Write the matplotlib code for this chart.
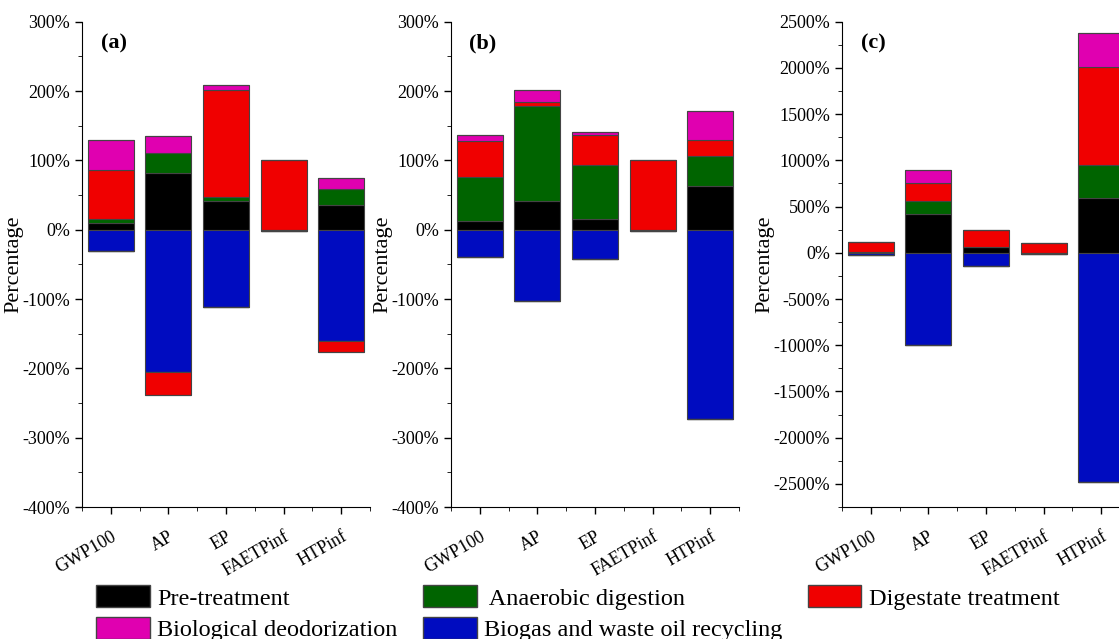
import numpy as np
import matplotlib.pyplot as plt
from matplotlib.patches import Patch
from matplotlib.ticker import MultipleLocator, FuncFormatter

plt.rcParams['font.family'] = ['Liberation Serif', 'DejaVu Serif']
plt.rcParams['axes.unicode_minus'] = False

categories = ['GWP100', 'AP', 'EP', 'FAETPinf', 'HTPinf']
stages = ['Pre-treatment', ' Anaerobic digestion', 'Digestate treatment',
          'Biological deodorization', 'Biogas and waste oil recycling']
colors = ['#000000', '#006400', '#f00000', '#e000b0', '#000cc0']

# percentage contributions per stage, panel (a)
pre_a = [10, 82, 41, 0, 35]
ad_a = [6, 28, 6, 0, 23]
dig_a = [70, -33, 155, 101, -16]
deo_a = [44, 25, 7, 0, 16]
bio_a = [-31, -205, -112, -2, -161]

# panel (b)
pre_b = [13, 42, 15, 0, 63]
ad_b = [63, 137, 78, 0, 44]
dig_b = [52, 5, 44, 100, 23]
deo_b = [9, 17, 4, 0, 41]
bio_b = [-39, -103, -42, -2, -273]

# panel (c)
pre_c = [5, 415, 61, 0, 592]
ad_c = [0, 149, 0, 0, 361]
dig_c = [107, 187, 181, 101, 1059]
deo_c = [0, 141, 0, 0, 361]
bio_c = [-25, -993, -144, -10, -2478]

panels = [
    ('(a)', [pre_a, ad_a, dig_a, deo_a, bio_a], (-400, 300), 100, 50),
    ('(b)', [pre_b, ad_b, dig_b, deo_b, bio_b], (-400, 300), 100, 50),
    ('(c)', [pre_c, ad_c, dig_c, deo_c, bio_c], (-2750, 2500), 500, 250),
]

fig = plt.figure(figsize=(11.19, 6.39), dpi=100)
lefts = [82, 451, 842]
x = np.arange(len(categories))

for (tag, series, ylim, major, minor), left in zip(panels, lefts):
    ax = fig.add_axes([left / 1119, (639 - 507) / 639, 288 / 1119, 485.3 / 639])
    pos = np.zeros(len(categories))
    neg = np.zeros(len(categories))
    # negatives: recycling first, then the rest
    order_neg = [4, 0, 1, 2, 3]
    for i in range(5):
        vals = np.array(series[i], dtype=float)
        p = np.where(vals > 0, vals, 0)
        ax.bar(x, p, 0.8, bottom=pos, color=colors[i], edgecolor='#444444', linewidth=0.8)
        pos += p
    for i in order_neg:
        vals = np.array(series[i], dtype=float)
        n = np.where(vals < 0, vals, 0)
        ax.bar(x, n, 0.8, bottom=neg, color=colors[i], edgecolor='#444444', linewidth=0.8)
        neg += n

    ax.set_xlim(-0.5, 4.5)
    ax.set_ylim(*ylim)
    ax.spines['top'].set_visible(False)
    ax.spines['right'].set_visible(False)
    ax.yaxis.set_major_locator(MultipleLocator(major))
    ax.yaxis.set_minor_locator(MultipleLocator(minor))
    ax.yaxis.set_major_formatter(FuncFormatter(lambda v, p: f'{v:.0f}%'))
    ax.set_xticks(x)
    ax.set_xticks(np.arange(-0.5, 5, 1), minor=True)
    ax.set_xticklabels(categories, rotation=30, ha='right', va='top',
                       rotation_mode='anchor', fontsize=13)
    ax.tick_params(axis='y', labelsize=13, length=5, width=1)
    ax.tick_params(axis='y', which='minor', length=3)
    ax.tick_params(axis='x', length=5, width=1, pad=10)
    ax.tick_params(axis='x', which='minor', length=3)
    ax.set_ylabel('Percentage', fontsize=16, labelpad=-1)
    ax.text(0.11, 0.955, tag, transform=ax.transAxes, fontsize=16,
            fontweight='bold', ha='center', va='center')

handles = [Patch(facecolor=c, edgecolor='#444444') for c in colors]
order = [0, 3, 1, 4, 2]
fig.legend([handles[i] for i in order], [stages[i] for i in order],
           ncol=3, loc='lower left', bbox_to_anchor=(94 / 1119, -0.007),
           frameon=False, fontsize=17.5, handlelength=2.2, handleheight=1.0,
           handletextpad=0.3, columnspacing=1.05, labelspacing=0.3,
           borderpad=0.1, borderaxespad=0.0)

fig.savefig('out.png', dpi=100)
